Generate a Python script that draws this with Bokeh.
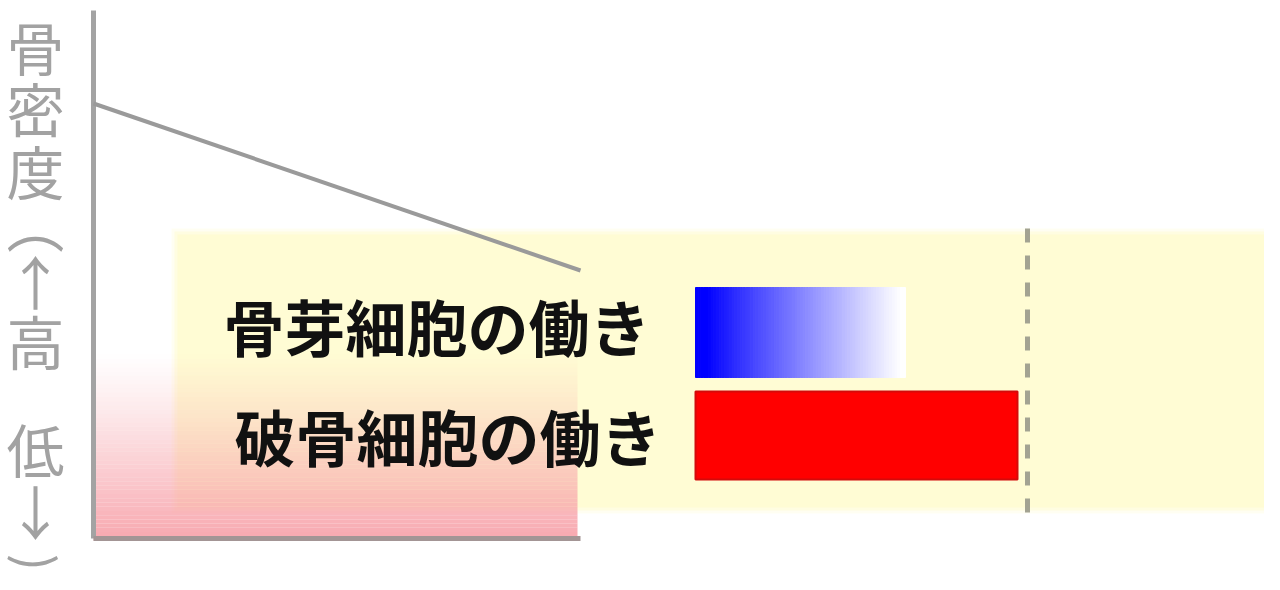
import math
from bokeh.plotting import figure
from bokeh.models import Range1d
from bokeh.core.properties import value
from bokeh.embed import file_html
from bokeh.resources import INLINE

# ---- data ----
time = [0.0, 48.7]                 # time axis (arbitrary units)
bone_density = [43.7, 27.0]        # bone density falls over time
cells = ["骨芽細胞の働き", "破骨細胞の働き"]
activity = [21.0, 32.2]            # relative activity (bar length)
bar_start = 60.2
bar_y = [20.8, 10.5]
bar_h = [9.0, 8.8]
label_x = [13.0, 14.1]
label_y = [21.5, 10.5]
ylabel_chars = ["骨", "密", "度", "︵", "↑", "高", "低", "↓"]
ylabel_pos = [49.5, 43.4, 37.1, 31.9, 26.1, 20.1, 9.3, 3.1]
close_paren = [")"]
close_paren_pos = [-2.2]

JP = value("Noto Sans CJK JP")

p = figure(width=1264, height=574, output_backend="svg", toolbar_location=None,
           x_range=Range1d(-9.3, 117.1), y_range=Range1d(-3.4, 54.0),
           min_border=0, background_fill_color="white", border_fill_color="white")
p.axis.visible = False
p.grid.visible = False
p.outline_line_color = None

# yellow panel with soft edge
for grow, a in [(0.6, 0.3), (0.3, 0.55), (0.0, 1.0)]:
    p.quad(left=[8.4 - grow], right=[125], bottom=[3.3 - grow], top=[30.6 + grow],
           fill_color="#fffcd4", fill_alpha=a, line_color=None)

# pink gradient at bottom-left (low bone density zone)
N = 45
top_pink = 19.0
hs = [top_pink * i / N for i in range(N + 1)]
p.quad(left=[0.0] * N, right=[time[1] - 0.3] * N,
       bottom=hs[:-1], top=hs[1:],
       fill_color="#f7a0a8",
       fill_alpha=[0.92 * (1 - (hs[i] + hs[i + 1]) / 2 / top_pink) ** 1.2 for i in range(N)],
       line_color=None)

# axes
p.line(x=[0, 0], y=[0.2, 53.0], line_color="#a3a3a3", line_width=5)
p.line(x=[0, time[1]], y=[0.2, 0.2], line_color="#a39595", line_width=5)

# bone density line
p.line(x=time, y=bone_density, line_color="#9a9a9a", line_width=4)

# labels
p.text(x=label_x, y=label_y, text=cells, text_font=JP, text_font_size="61px",
       text_font_style="bold", text_color="#111111", text_align="left",
       text_baseline="middle")

# osteoblast bar: blue -> white gradient
M = 80
w = activity[0]
lefts = [bar_start + w * i / M for i in range(M)]
rights = [bar_start + w * (i + 1) / M for i in range(M)]
cols = []
for i in range(M):
    t = (i + 0.5) / M
    t = min(max((t - 0.06) / 0.92, 0.0), 1.0)
    t = t ** 0.9
    c = int(round(255 * t))
    cols.append("#%02x%02x%02x" % (c, c, 255))
p.quad(left=lefts, right=rights, bottom=[bar_y[0] - bar_h[0] / 2] * M,
       top=[bar_y[0] + bar_h[0] / 2] * M, fill_color=cols, line_color=cols)

# osteoclast bar: red
p.quad(left=[bar_start], right=[bar_start + activity[1]],
       bottom=[bar_y[1] - bar_h[1] / 2], top=[bar_y[1] + bar_h[1] / 2],
       fill_color="#ff0000", line_color="#d40a0a", line_width=2)

# dotted reference line
p.line(x=[93.4, 93.4], y=[31.2, 1.5], line_color="#a3a392", line_width=5,
       line_dash="14 13")

# vertical y-axis caption
p.text(x=[-5.8] * len(ylabel_chars), y=ylabel_pos, text=ylabel_chars, text_font=JP,
       text_font_size="58px", text_color="#a2a2a2", text_align="center",
       text_baseline="middle")
# closing parenthesis of the vertical caption (rotated for vertical writing)
p.text(x=[-5.5], y=close_paren_pos, text=close_paren, text_font=JP,
       text_font_size="50px", text_color="#a2a2a2", text_align="center",
       text_baseline="middle", angle=-math.pi / 2)

open("out.html", "w").write(file_html(p, INLINE))
